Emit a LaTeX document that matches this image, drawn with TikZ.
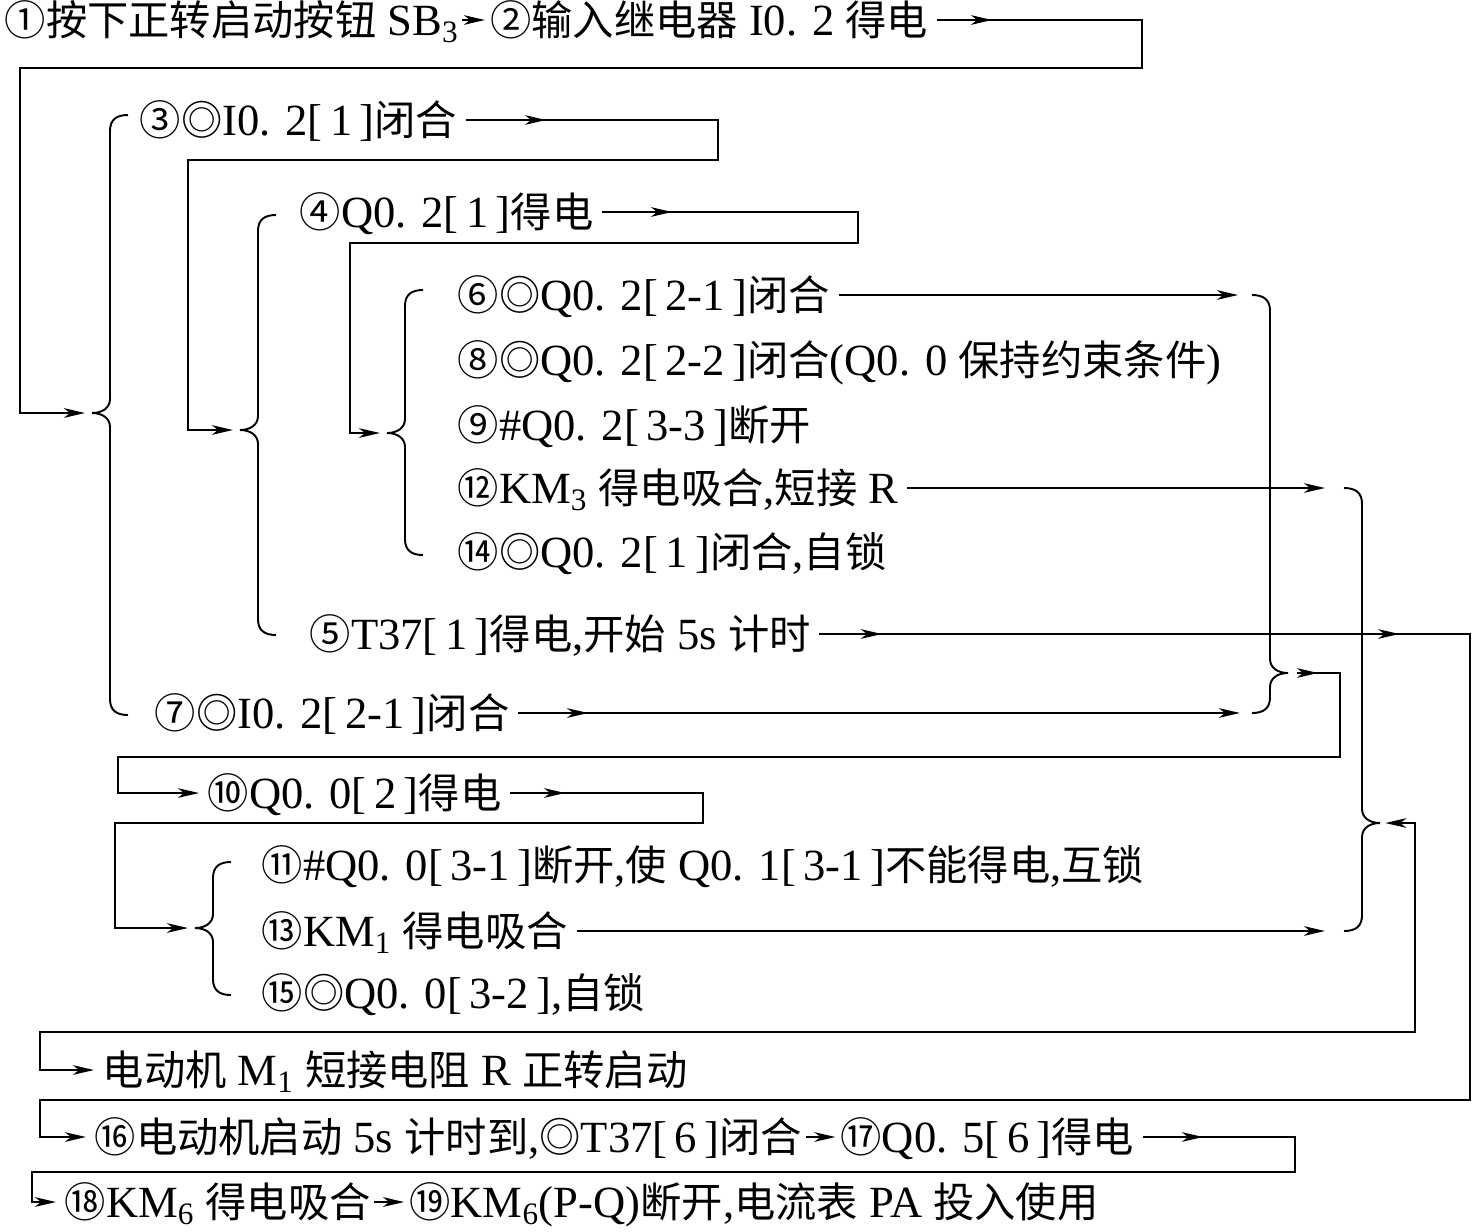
\documentclass[tikz,border=0pt]{standalone}
\usepackage{fontspec}
\setmainfont{Liberation Serif}[Scale=1.08]
\newfontfamily\zhfont{Noto Sans CJK SC}
\newcommand{\zh}[1]{{\zhfont #1}}
\usepackage{tikz}
\usetikzlibrary{arrows.meta, positioning, decorations.markings}

% 左花括号 {x}{上端}{尖端}{下端}
\newcommand{\bracel}[4]{%
  \draw (#1+18,#2) .. controls (#1+6,#2) and (#1,#2+5) .. (#1,#2+16)
    -- (#1,#3-14) .. controls (#1,#3-5) and (#1-8,#3) .. (#1-18,#3)
    .. controls (#1-8,#3) and (#1,#3+5) .. (#1,#3+14)
    -- (#1,#4-16) .. controls (#1,#4-5) and (#1+6,#4) .. (#1+18,#4);}
% 右花括号
\newcommand{\bracer}[4]{%
  \draw (#1-18,#2) .. controls (#1-6,#2) and (#1,#2+5) .. (#1,#2+16)
    -- (#1,#3-14) .. controls (#1,#3-5) and (#1+8,#3) .. (#1+18,#3)
    .. controls (#1+8,#3) and (#1,#3+5) .. (#1,#3+14)
    -- (#1,#4-16) .. controls (#1,#4-5) and (#1-6,#4) .. (#1-18,#4);}

\begin{document}
\begin{tikzpicture}[
    x=0.02cm, y=-0.02cm,
    line width=1.1pt,
    >={Stealth[length=12pt, width=5.5pt, inset=3.5pt]},
    txt/.style={anchor=west, inner sep=0pt, outer xsep=5pt, text height=19pt, text depth=1pt, font=\fontsize{23.5}{28}\selectfont},
    midarr/.style={postaction={decorate}, decoration={markings, mark=at position #1 with {\arrow{>}}}},
    twoarr/.style 2 args={postaction={decorate}, decoration={markings, mark=at position #1 with {\arrow{>}}, mark=at position #2 with {\arrow{>}}}},
    tobr/.style={shorten >=4pt},
    short/.style={->, shorten <=-3pt, shorten >=-2pt}
]
\useasboundingbox (0,0) rectangle (1473,1231);

% --- 文本 ---
\node[txt] (n1) at (-4,20) {\zh{①按下正转启动按钮} SB\textsubscript{3}};
\node[txt, right=8pt of n1] (n2) {\zh{②输入继电器} I0. 2 \zh{得电}};
\node[txt] (n3) at (131,120) {\zh{③◎}I0. 2[\,1\,]\zh{闭合}};
\node[txt] (n4) at (291,212) {\zh{④}Q0. 2[\,1\,]\zh{得电}};
\node[txt] (n6) at (449,295) {\zh{⑥◎}Q0. 2[\,2-1\,]\zh{闭合}};
\node[txt] (n8) at (449,360) {\zh{⑧◎}Q0. 2[\,2-2\,]\zh{闭合}(Q0. 0 \zh{保持约束条件})};
\node[txt] (n9) at (449,425) {\zh{⑨}\#Q0. 2[\,3-3\,]\zh{断开}};
\node[txt] (n12) at (449,488) {\zh{⑫}KM\textsubscript{3} \zh{得电吸合},\zh{短接} R};
\node[txt] (n14) at (449,552) {\zh{⑭◎}Q0. 2[\,1\,]\zh{闭合},\zh{自锁}};
\node[txt] (n5) at (301,634) {\zh{⑤}T37[\,1\,]\zh{得电},\zh{开始} 5s \zh{计时}};
\node[txt] (n7) at (146,713) {\zh{⑦◎}I0. 2[\,2-1\,]\zh{闭合}};
\node[txt] (n10) at (199,793) {\zh{⑩}Q0. 0[\,2\,]\zh{得电}};
\node[txt] (n11) at (253,865) {\zh{⑪}\#Q0. 0[\,3-1\,]\zh{断开},\zh{使} Q0. 1[\,3-1\,]\zh{不能得电},\zh{互锁}};
\node[txt] (n13) at (253,931) {\zh{⑬}KM\textsubscript{1} \zh{得电吸合}};
\node[txt] (n15) at (253,993) {\zh{⑮◎}Q0. 0[\,3-2\,],\zh{自锁}};
\node[txt] (nm1) at (94,1070) {\zh{电动机} M\textsubscript{1} \zh{短接电阻} R \zh{正转启动}};
\node[txt] (n16) at (86,1137) {\zh{⑯电动机启动} 5s \zh{计时到},\zh{◎}T37[\,6\,]\zh{闭合}};
\node[txt, right=12pt of n16] (n17) {\zh{⑰}Q0. 5[\,6\,]\zh{得电}};
\node[txt] (n18) at (56,1202) {\zh{⑱}KM\textsubscript{6} \zh{得电吸合}};
\node[txt, right=12pt of n18] (n19) {\zh{⑲}KM\textsubscript{6}(P-Q)\zh{断开},\zh{电流表} PA \zh{投入使用}};

% --- 花括号 ---
\coordinate (b1) at (92,413);
\coordinate (b2) at (240,430);
\coordinate (b3) at (387,433);
\coordinate (b4) at (195,928);
\coordinate (r1) at (1288,673);
\coordinate (r2) at (1380,823);
\coordinate (r1t) at (1238,295);
\coordinate (r1b) at (1240,713);
\coordinate (r2t) at (1325,488);
\coordinate (r2b) at (1325,931);
\bracel{110}{115}{413}{715}
\bracel{258}{215}{430}{635}
\bracel{405}{290}{433}{555}
\bracel{213}{862}{928}{995}
\bracer{1270}{295}{673}{713}
\bracer{1362}{488}{823}{931}

% --- 连线 ---
\draw[short] (n1.east) -- (n2.west);
\draw[->, midarr=1.1cm, tobr] (n2.east) -| (1142,68) -- (20,68) |- (b1);
\draw[->, midarr=1.6cm, tobr] (n3.east) -| (718,160) -- (188,160) |- (b2);
\draw[->, midarr=1.4cm, tobr] (n4.east) -| (858,243) -- (350,243) |- (b3);
\draw[->] (n6.east) -- (n6.east -| r1t);
\draw[->, midarr=1.4cm] (n7.east) -- (n7.east -| r1b);
\draw[->, midarr=0.6cm, shorten <=5pt] (r1) -| (1340,757) -- (118,757) |- (n10.west);
\draw[->, midarr=1.1cm, tobr] (n10.east) -| (703,823) -- (115,823) |- (b4);
\draw[->, twoarr={1.25cm}{11.6cm}] (n5.east) -| (1470,1100) -- (40,1100) |- (n16.west);
\draw[->] (n12.east) -- (n12.east -| r2t);
\draw[->] (n13.east) -- (n13.east -| r2b);
\draw[<->, shorten <=3pt] (r2) -| (1415,1032) -- (40,1032) |- (nm1.west);
\draw[short] (n16.east) -- (n17.west);
\draw[->, midarr=1.2cm] (n17.east) -| (1295,1172) -- (32,1172) |- (n18.west);
\draw[short] (n18.east) -- (n19.west);
\end{tikzpicture}
\end{document}
